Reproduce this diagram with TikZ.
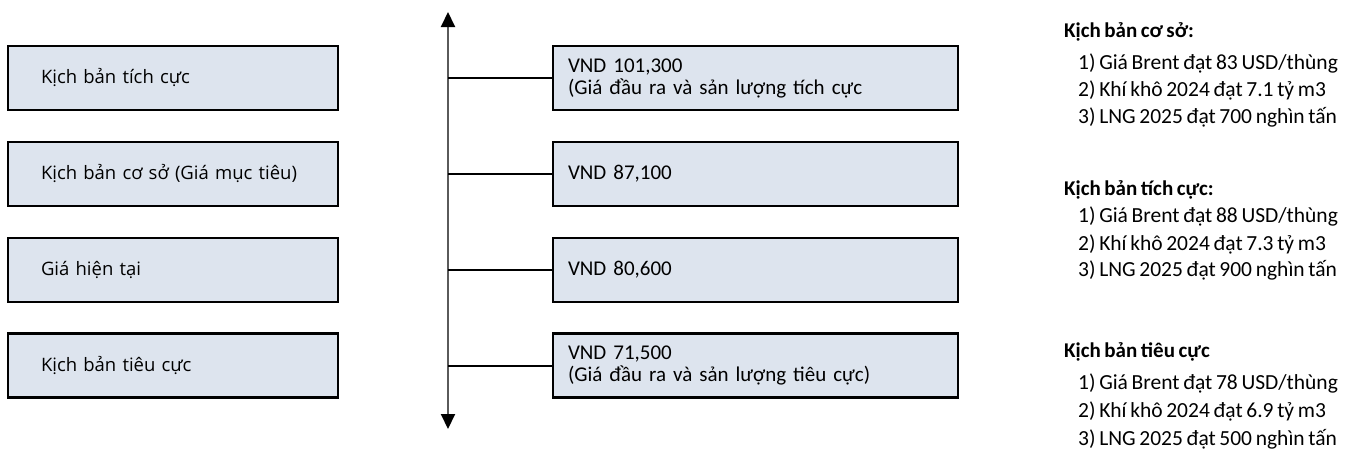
\documentclass[tikz,border=0pt]{standalone}
\usepackage{fontspec}
\setmainfont[WordSpace=0.75]{Carlito}
\newfontfamily\leftfont[WordSpace=0.8]{Open Sans}
\usetikzlibrary{arrows.meta}
\definecolor{boxfill}{RGB}{221,228,238}
\definecolor{axisgray}{RGB}{90,90,90}
\begin{document}
\begin{tikzpicture}[x=1pt,y=-1pt,
  leftbox/.style={draw=black,line width=2.5pt,fill=boxfill,minimum width=330pt,minimum height=64pt,
    text width=264pt,inner xsep=33pt,inner ysep=0pt,align=left,
    font=\leftfont\fontsize{18.5}{22}\selectfont},
  valbox/.style={draw=black,line width=2.5pt,fill=boxfill,minimum width=405pt,minimum height=64pt,
    text width=375pt,inner xsep=15pt,inner ysep=0pt,align=left,
    font=\fontsize{21}{22}\selectfont},
  conn/.style={draw=black,line width=2pt},
  axisline/.style={draw=axisgray,line width=2pt},
  note/.style={anchor=base west,inner sep=0pt,font=\fontsize{21.5}{22}\selectfont},
  notehead/.style={note,font=\bfseries\fontsize{21}{22}\selectfont}
]
\useasboundingbox (0,0) rectangle (1353,456);

% left boxes
\node[leftbox] (l1) at (173,78) {Kịch bản tích cực};
\node[leftbox] (l2) at (173,174) {Kịch bản cơ sở (Giá mục tiêu)};
\node[leftbox] (l3) at (173,270) {Giá hiện tại};
\node[leftbox] (l4) at (173,365.5) {Kịch bản tiêu cực};

% value boxes
\node[valbox] (r1) at (755.5,78) {VND 101,300\\(Giá đầu ra và sản lượng tích cực};
\node[valbox] (r2) at (755.5,174) {VND 87,100};
\node[valbox] (r3) at (755.5,270) {VND 80,600};
\node[valbox] (r4) at (755.5,365.5) {VND 71,500\\(Giá đầu ra và sản lượng tiêu cực)};

% axis
\coordinate (atop) at (448,12);
\coordinate (abot) at (448,429);
\draw[axisline,{Triangle[width=14pt,length=15pt,color=black]}-{Triangle[width=14pt,length=15pt,color=black]}] (atop) -- (abot);

% connectors
\draw[conn] (r1.west -| atop) -- (r1.west);
\draw[conn] (r2.west -| atop) -- (r2.west);
\draw[conn] (r3.west -| atop) -- (r3.west);
\draw[conn] (r4.west -| atop) -- (r4.west);

% notes
\node[notehead] (h1) at (1064,37) {Kịch bản cơ sở:};
\node[note] (a1) at (1078,69) {1) Giá Brent đạt 83 USD/thùng};
\node[note] (a2) at (1078,96) {2) Khí khô 2024 đạt 7.1 tỷ m3};
\node[note] (a3) at (1078,123) {3) LNG 2025 đạt 700 nghìn tấn};

\node[notehead] (h2) at (1064,195) {Kịch bản tích cực:};
\node[note] (b1) at (1078,222) {1) Giá Brent đạt 88 USD/thùng};
\node[note] (b2) at (1078,250) {2) Khí khô 2024 đạt 7.3 tỷ m3};
\node[note] (b3) at (1078,276) {3) LNG 2025 đạt 900 nghìn tấn};

\node[notehead] (h3) at (1064,357) {Kịch bản tiêu cực};
\node[note] (c1) at (1078,389) {1) Giá Brent đạt 78 USD/thùng};
\node[note] (c2) at (1078,417) {2) Khí khô 2024 đạt 6.9 tỷ m3};
\node[note] (c3) at (1078,445) {3) LNG 2025 đạt 500 nghìn tấn};
\end{tikzpicture}
\end{document}
